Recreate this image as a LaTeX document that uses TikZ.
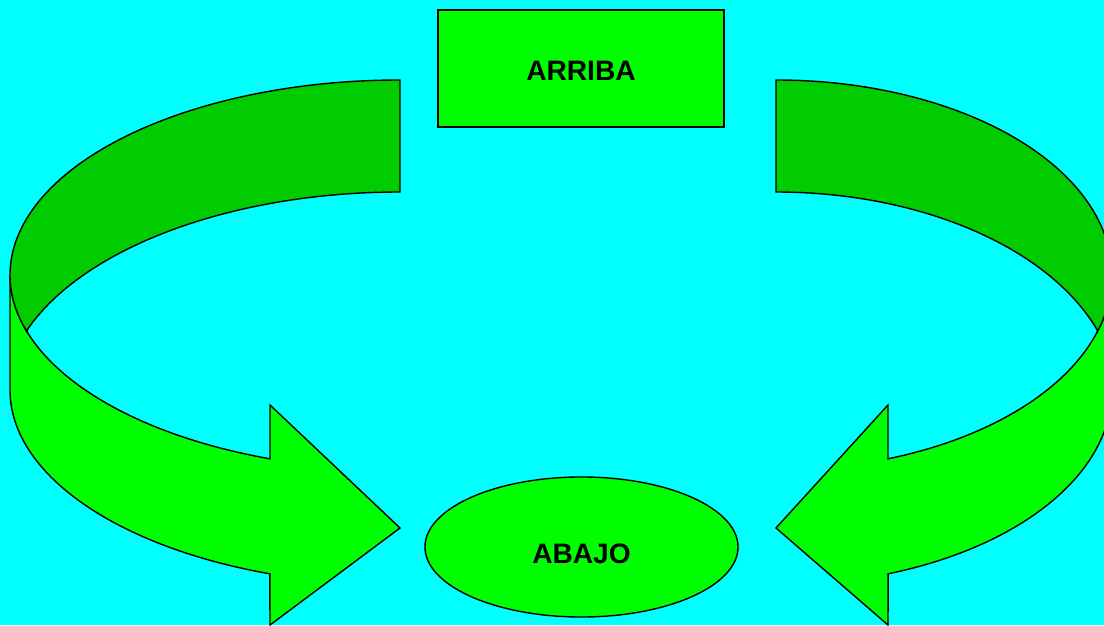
\documentclass[tikz,border=0pt]{standalone}
\usepackage{fontspec}
\setmainfont{Liberation Sans}
\usetikzlibrary{shapes.geometric}

\definecolor{skycyan}{HTML}{00FFFF}
\definecolor{arrowgreen}{HTML}{00FF00}
\definecolor{bandgreen}{HTML}{00CC00}

\begin{document}
\begin{tikzpicture}[
    x=0.025cm, y=0.025cm,
    line width=1pt,
    box/.style={rectangle, draw=black, fill=arrowgreen, minimum width=7.15cm, minimum height=2.925cm, font=\fontsize{20}{24}\selectfont\bfseries, text height=17pt, text depth=0pt},
    oval/.style={ellipse, draw=black, fill=arrowgreen, minimum width=7.825cm, minimum height=3.5cm, inner sep=0pt, font=\fontsize{20}{24}\selectfont\bfseries, text height=24pt, text depth=0pt},
    front/.style={draw=black, fill=arrowgreen},
    band/.style={draw=black, fill=bandgreen}
]

% Background
\fill[skycyan] (0,0) rectangle (1104,625);
\useasboundingbox (0,0) rectangle (1104,625);
\clip (0,0) rectangle (1104,625);

% Left arrow
\begin{scope}[shift={(400,0)}]
\draw[front] (-390,350) -- (-390,235)
    arc[start angle=180, end angle=250.5, x radius=390, y radius=195]
    -- (-130,0) -- (0,97) -- (-130,220) -- (-130,166.2)
    arc[start angle=250.5, end angle=180, x radius=390, y radius=195] -- cycle;
\draw[band] (0,545)
    arc[start angle=90, end angle=197, x radius=390, y radius=195]
    -- (-372.8,295.1)
    arc[start angle=160.3, end angle=90, x radius=396, y radius=208] -- cycle;
\end{scope}

% Right arrow
\begin{scope}[shift={(776,0)}, xscale=-0.8615]
\draw[front] (-390,350) -- (-390,235)
    arc[start angle=180, end angle=250.5, x radius=390, y radius=195]
    -- (-130,0) -- (0,97) -- (-130,220) -- (-130,166.2)
    arc[start angle=250.5, end angle=180, x radius=390, y radius=195] -- cycle;
\draw[band] (0,545)
    arc[start angle=90, end angle=197, x radius=390, y radius=195]
    -- (-372.8,295.1)
    arc[start angle=160.3, end angle=90, x radius=396, y radius=208] -- cycle;
\end{scope}

% Nodes
\node[box] (arriba) at (581,556.5) {ARRIBA};
\node[oval] (abajo) at (581.5,78) {ABAJO};

\end{tikzpicture}
\end{document}
